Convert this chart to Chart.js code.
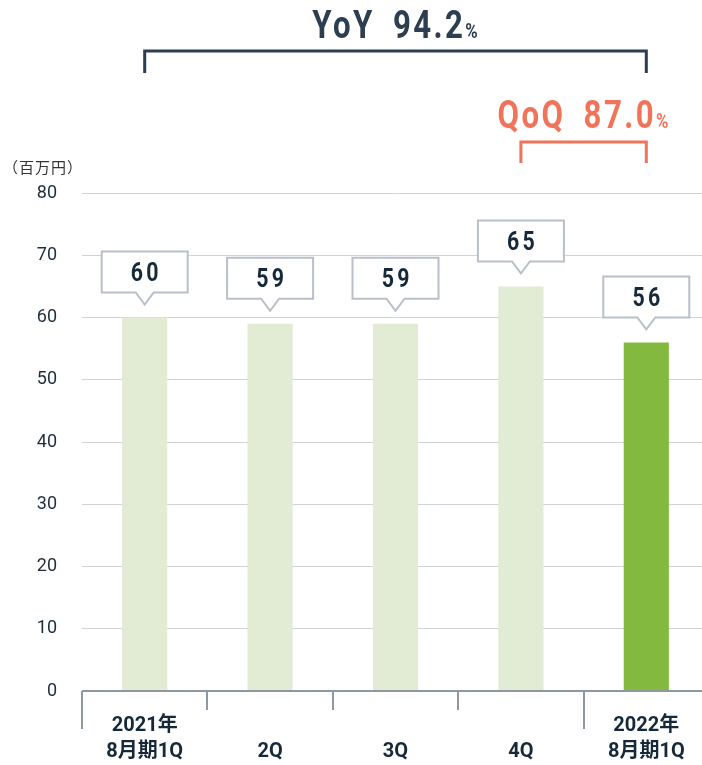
<!DOCTYPE html>
<html>
<head>
<meta charset="utf-8">
<script src="https://cdn.jsdelivr.net/npm/chart.js@4"></script>
<style>
  html, body { margin: 0; padding: 0; background: #fff; overflow: hidden; }
  canvas { display: block; }
</style>
</head>
<body>
<canvas id="bar-chart" width="710" height="765"></canvas>
<script>
// data
const categories = [['2021年', '8月期1Q'], ['', '2Q'], ['', '3Q'], ['', '4Q'], ['2022年', '8月期1Q']];
const sales = [60, 59, 59, 65, 56];
const barColors = ['#e2ebd4', '#e2ebd4', '#e2ebd4', '#e2ebd4', '#84b93f'];
const yTicks = [0, 10, 20, 30, 40, 50, 60, 70, 80];
const yoy = { label: 'YoY 94.2', unit: '%', from: 0, to: 4 };
const qoq = { label: 'QoQ 87.0', unit: '%', from: 3, to: 4 };
const unitLabel = '（百万円）';

const NUM_FONT = 'Roboto, "DejaVu Sans", sans-serif';
const JP_FONT = 'Roboto, "Noto Sans CJK JP", sans-serif';

// condensed text helper (DIN-like look)
function drawText(ctx, text, x, y, font, color, squeeze, spacing, wordGap) {
    ctx.save();
    ctx.font = font;
    ctx.fillStyle = color;
    ctx.letterSpacing = (spacing || 0) + 'px';
    ctx.wordSpacing = (wordGap || 0) + 'px';
    ctx.textBaseline = 'alphabetic';
    ctx.textAlign = 'left';
    ctx.translate(x, y);
    ctx.scale(squeeze, 1);
    ctx.fillText(text, 0, 0);
    const w = ctx.measureText(text).width * squeeze;
    ctx.restore();
    return w;
}
function textWidth(ctx, text, font, squeeze, spacing, wordGap) {
    ctx.save();
    ctx.font = font;
    ctx.letterSpacing = (spacing || 0) + 'px';
    ctx.wordSpacing = (wordGap || 0) + 'px';
    const w = ctx.measureText(text).width * squeeze;
    ctx.restore();
    return w;
}

// brackets + growth rate headings
function drawBracket(ctx, x1, x2, yTop, yBottom, color, info, textY, textCenter) {
    ctx.save();
    ctx.strokeStyle = color;
    ctx.lineWidth = 3;
    ctx.lineCap = 'butt';
    ctx.beginPath();
    ctx.moveTo(x1, yBottom);
    ctx.lineTo(x1, yTop);
    ctx.lineTo(x2, yTop);
    ctx.lineTo(x2, yBottom);
    ctx.stroke();
    ctx.restore();

    const bigFont = 'bold 39px ' + NUM_FONT;
    const smallFont = 'bold 21px ' + NUM_FONT;
    const wBig = textWidth(ctx, info.label, bigFont, 0.8, 3, 10);
    const wSmall = textWidth(ctx, info.unit, smallFont, 0.8, 0);
    let x = textCenter - (wBig + wSmall) / 2;
    x += drawText(ctx, info.label, x, textY, bigFont, color, 0.8, 3, 10);
    drawText(ctx, info.unit, x, textY, smallFont, color, 0.8, 0);
}

const overlayPlugin = {
    id: 'overlay',
    afterDraw(chart) {
        const ctx = chart.ctx;
        const xs = chart.scales.x;
        const area = chart.chartArea;

        // axis ticks below the base line
        ctx.save();
        ctx.strokeStyle = '#8e98a5';
        ctx.lineWidth = 2;
        const step = xs.getPixelForValue(1) - xs.getPixelForValue(0);
        for (let i = 0; i < categories.length; i++) {
            const x = Math.round(xs.getPixelForValue(i) - step / 2);
            const long = (i === 0 || i === categories.length - 1);
            ctx.beginPath();
            ctx.moveTo(x, area.bottom);
            ctx.lineTo(x, area.bottom + (long ? 38 : 19));
            ctx.stroke();
        }
        ctx.beginPath();
        ctx.moveTo(area.left, area.bottom);
        ctx.lineTo(area.right, area.bottom);
        ctx.stroke();
        ctx.restore();

        // unit label
        ctx.save();
        ctx.font = '15px "Noto Sans CJK JP", sans-serif';
        ctx.letterSpacing = '1px';
        ctx.fillStyle = '#333';
        ctx.textBaseline = 'middle';
        ctx.fillText(unitLabel, 3, 167);
        ctx.restore();

        // value callouts
        const meta = chart.getDatasetMeta(0);
        meta.data.forEach((bar, i) => {
            const cx = bar.x;
            const top = bar.y;
            const bw = 86, bh = 41;
            const bottom = top - 25;
            const tip = top - 13;
            ctx.save();
            ctx.fillStyle = '#fff';
            ctx.strokeStyle = '#b9c0ca';
            ctx.lineWidth = 2;
            ctx.beginPath();
            ctx.moveTo(cx - bw / 2, bottom - bh);
            ctx.lineTo(cx + bw / 2, bottom - bh);
            ctx.lineTo(cx + bw / 2, bottom);
            ctx.lineTo(cx + 9, bottom);
            ctx.lineTo(cx, tip);
            ctx.lineTo(cx - 9, bottom);
            ctx.lineTo(cx - bw / 2, bottom);
            ctx.closePath();
            ctx.fill();
            ctx.stroke();
            ctx.restore();

            const font = 'bold 26px ' + NUM_FONT;
            const txt = String(sales[i]);
            const w = textWidth(ctx, txt, font, 0.82, 4) - 4 * 0.82;
            drawText(ctx, txt, cx - w / 2, bottom - bh / 2 + 9, font, '#15293a', 0.82, 4);
        });

        // YoY / QoQ
        const yx1 = xs.getPixelForValue(yoy.from), yx2 = xs.getPixelForValue(yoy.to);
        drawBracket(ctx, yx1, yx2, 51, 73, '#2c3e50', yoy, 38, 395);
        const qx1 = xs.getPixelForValue(qoq.from), qx2 = xs.getPixelForValue(qoq.to);
        drawBracket(ctx, qx1, qx2, 142, 163, '#f0735a', qoq, 128, 583);
    }
};

const ctx = document.getElementById('bar-chart').getContext('2d');

new Chart(ctx, {
    type: 'bar',
    data: {
        labels: categories,
        datasets: [{
            data: sales,
            backgroundColor: barColors,
            barPercentage: 0.36,
            categoryPercentage: 1
        }]
    },
    options: {
        responsive: false,
        animation: false,
        layout: { padding: { top: 193, right: 1, left: 0, bottom: 0 } },
        plugins: {
            legend: { display: false },
            tooltip: { enabled: false }
        },
        scales: {
            x: {
                grid: { display: false },
                border: { display: false },
                ticks: {
                    color: '#15293a',
                    font: { family: JP_FONT, size: 20, weight: 'bold', lineHeight: 1.3 },
                    padding: 14,
                    maxRotation: 0,
                    autoSkip: false
                },
                afterFit: s => { s.height = 74; }
            },
            y: {
                min: 0,
                max: 80,
                afterBuildTicks: s => { s.ticks = yTicks.map(v => ({ value: v })); },
                grid: {
                    color: '#cfd3da',
                    lineWidth: 1,
                    drawTicks: false
                },
                border: { display: false },
                ticks: {
                    color: '#1e2e3e',
                    font: { family: NUM_FONT, size: 18 },
                    padding: 25
                },
                afterFit: s => { s.width = 82; }
            }
        }
    },
    plugins: [overlayPlugin]
});
</script>
</body>
</html>
